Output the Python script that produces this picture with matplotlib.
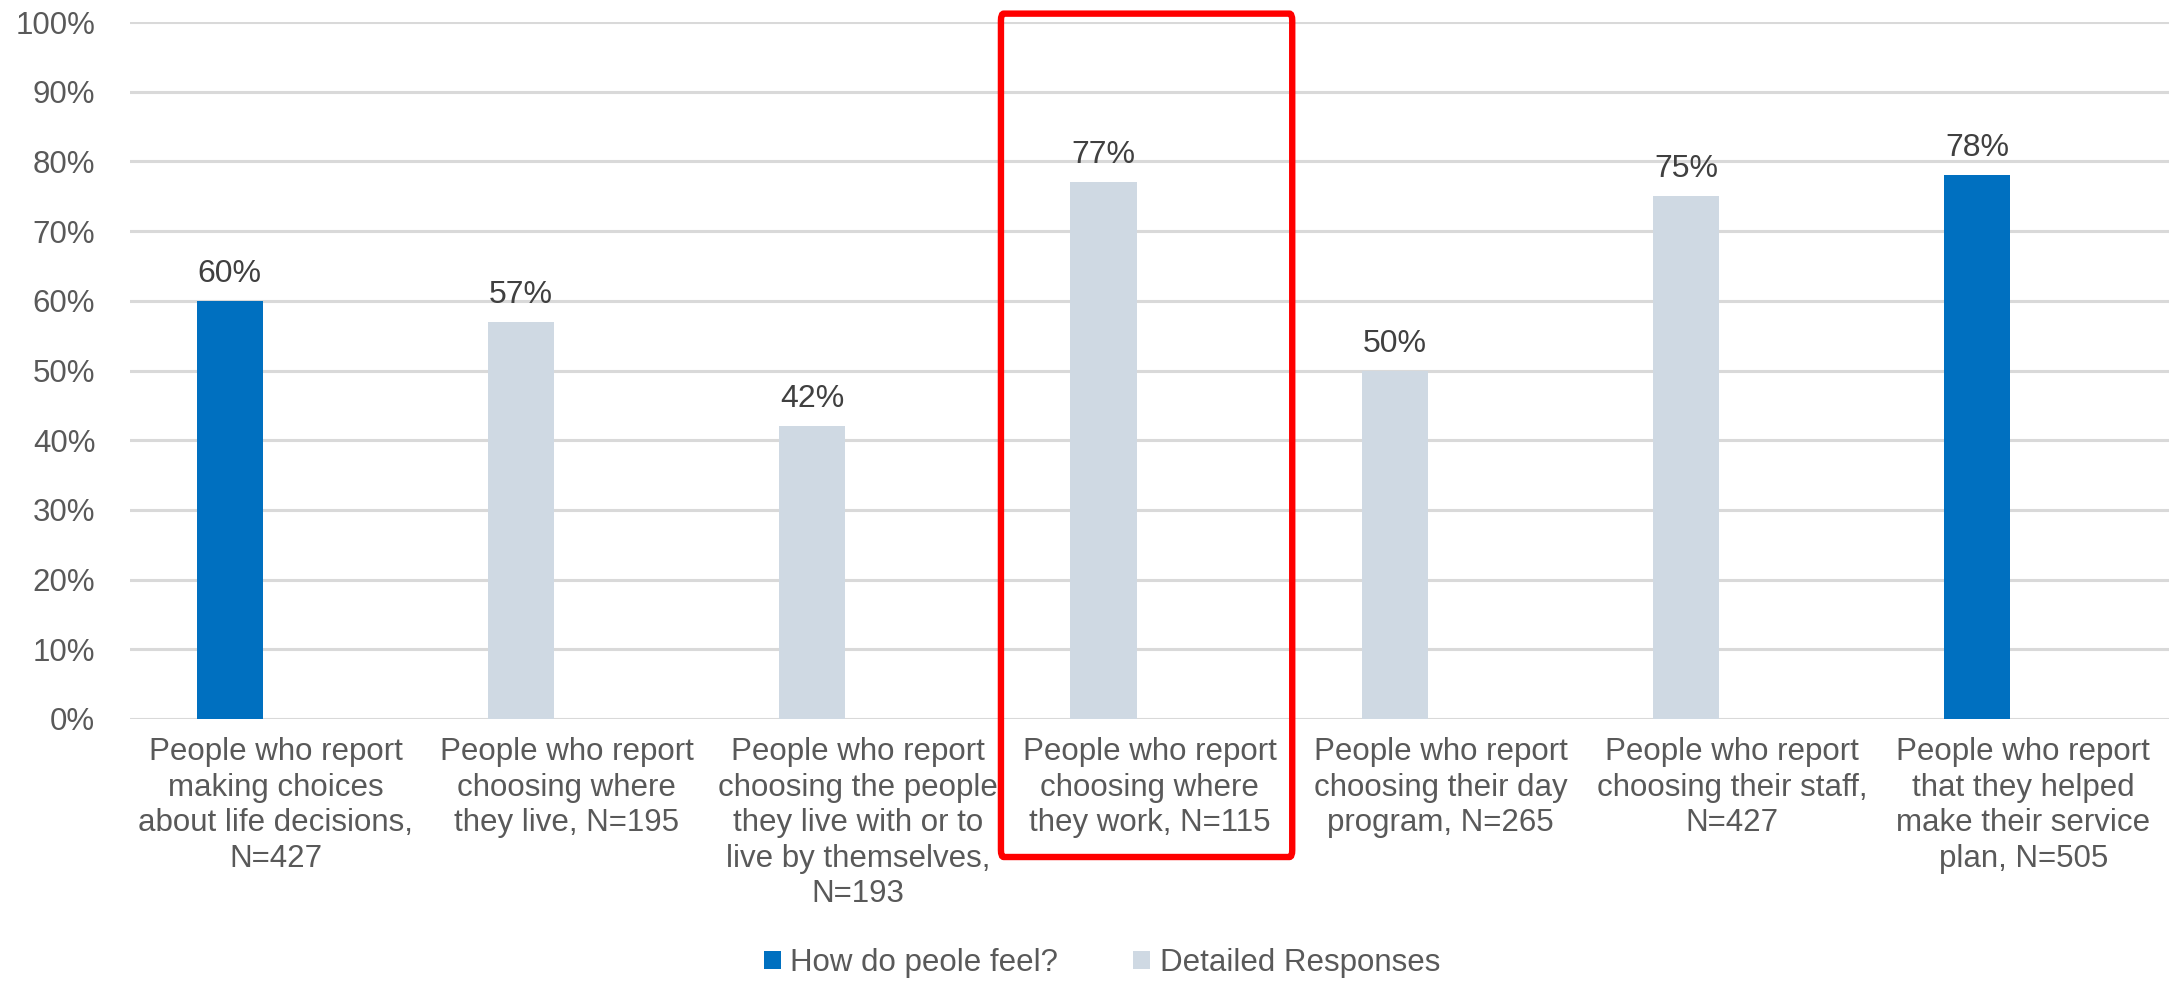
import numpy as np
import matplotlib.pyplot as plt
from matplotlib.patches import FancyBboxPatch

plt.rcParams['font.family'] = ['Liberation Sans', 'DejaVu Sans']

categories = [
    "People who report\nmaking choices\nabout life decisions,\nN=427",
    "People who report\nchoosing where\nthey live, N=195",
    "People who report\nchoosing the people\nthey live with or to\nlive by themselves,\nN=193",
    "People who report\nchoosing where\nthey work, N=115",
    "People who report\nchoosing their day\nprogram, N=265",
    "People who report\nchoosing their staff,\nN=427",
    "People who report\nthat they helped\nmake their service\nplan, N=505",
]
feel = [60, None, None, None, None, None, 78]
detailed = [None, 57, 42, 77, 50, 75, None]
series_names = ["How do peole feel?", "Detailed Responses"]
colors = ["#0070C0", "#CFD9E3"]
highlight = 3  # category boxed in red

fs = 22.5

fig = plt.figure(figsize=(21.78, 9.81), dpi=100)
ax = fig.add_axes([130 / 2178, 1 - 719 / 981, (2169 - 130) / 2178, 697 / 981])

x = np.arange(len(categories))
width = 0.227
offset = -0.158

for vals, name, c in zip([feel, detailed], series_names, colors):
    v = np.array([np.nan if a is None else a for a in vals], dtype=float)
    ax.bar(x + offset, v, width, color=c, label=name, zorder=3)
    for xi, vi in zip(x, v):
        if not np.isnan(vi):
            ax.text(xi + offset, vi + 1.7, "%d%%" % vi, ha='center', va='bottom',
                    fontsize=23, color='#404040')

ax.set_xlim(-0.5, len(categories) - 0.5)
ax.set_ylim(0, 100)
ax.set_yticks(np.arange(0, 101, 10))
ax.set_yticklabels(["%d%%" % t for t in range(0, 101, 10)])
ax.yaxis.grid(True, color='#D9D9D9', linewidth=2.2, zorder=0)
ax.set_axisbelow(True)
for s in ax.spines.values():
    s.set_visible(False)
ax.tick_params(axis='y', length=0, pad=25, labelsize=fs, labelcolor='#595959')
ax.set_xticks(x)
ax.set_xticklabels(categories, fontsize=fs, color='#595959', linespacing=1.24)
ax.tick_params(axis='x', length=0, pad=13)

# red highlight box around one category
box = FancyBboxPatch((highlight - 0.51, -0.198), 1.0, 1.21,
                     boxstyle="round,pad=0,rounding_size=0.01",
                     transform=ax.get_xaxis_transform(), fill=False,
                     edgecolor='#FF0000', linewidth=4.6, clip_on=False, zorder=5)
ax.add_patch(box)

fig.legend(loc='center', bbox_to_anchor=(1102 / 2178, 1 - 963 / 981), ncol=2,
           frameon=False, fontsize=fs, labelcolor='#595959',
           handlelength=0.55, handleheight=0.55, handletextpad=0.3,
           columnspacing=2.4)

plt.savefig("out.png", dpi=100)
